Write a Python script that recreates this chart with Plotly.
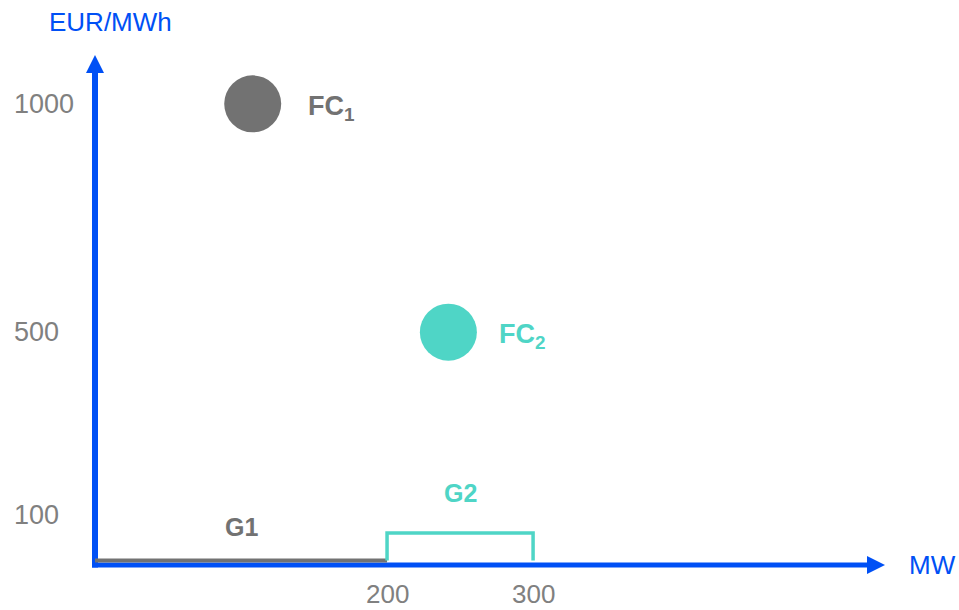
import plotly.graph_objects as go

# Supply blocks (MW) and offer prices (EUR/MWh)
g1_mw = [0, 200]
g1_price = [0, 0]
g2_mw = [200, 200, 300, 300]
g2_price = [0, 60, 60, 0]

# Fuel-cost points
fc_labels = ["FC<sub>1</sub>", "FC<sub>2</sub>"]
fc_mw = [108, 242]
fc_price = [1000, 500]

# Axis tick labels
y_ticks = [1000, 500, 100]
x_ticks = [200, 300]

BLUE = "#0050F5"
GRAY = "#727272"
TEAL = "#4FD5C6"
TICK_GRAY = "#808080"
FONT = "Arial, 'Liberation Sans', sans-serif"

fig = go.Figure()

# G1 block along the base
fig.add_trace(go.Scatter(x=g1_mw, y=g1_price, mode="lines",
                         line=dict(color=GRAY, width=4), hoverinfo="skip"))
# G2 bracket
fig.add_trace(go.Scatter(x=g2_mw, y=g2_price, mode="lines",
                         line=dict(color=TEAL, width=3.5), hoverinfo="skip"))
# Fuel-cost markers
fig.add_trace(go.Scatter(x=fc_mw, y=fc_price, mode="markers",
                         marker=dict(size=57, color=[GRAY, TEAL], line=dict(width=0)),
                         hoverinfo="skip", cliponaxis=False))

annotations = []
for lab, xv, yv, col, dx in zip(fc_labels, fc_mw, fc_price, [GRAY, TEAL], [53, 49]):
    annotations.append(dict(x=xv, y=yv, xref="x", yref="y", text=f"<b>{lab}</b>",
                            showarrow=False, xanchor="left", yanchor="middle",
                            xshift=dx, yshift=-4,
                            font=dict(family=FONT, size=27, color=col)))

# Block names
annotations.append(dict(x=(g1_mw[0] + g1_mw[1]) / 2, y=0, xref="x", yref="y",
                        text="<b>G1</b>", showarrow=False, yshift=33,
                        font=dict(family=FONT, size=25, color=GRAY)))
annotations.append(dict(x=(g2_mw[0] + g2_mw[-1]) / 2, y=0, xref="x", yref="y",
                        text="<b>G2</b>", showarrow=False, yshift=67,
                        font=dict(family=FONT, size=25, color=TEAL)))

# Tick labels
for v in y_ticks:
    annotations.append(dict(x=-0.1045, y=v, xref="paper", yref="y", text=str(v),
                            showarrow=False, xanchor="left", yanchor="middle",
                            font=dict(family=FONT, size=27, color=TICK_GRAY)))
for v in x_ticks:
    annotations.append(dict(x=v, y=0, xref="x", yref="paper", text=str(v),
                            showarrow=False, xanchor="center", yanchor="middle",
                            yshift=-29,
                            font=dict(family=FONT, size=26, color=TICK_GRAY)))

# Axis titles
annotations.append(dict(x=0.019, y=1, xref="paper", yref="paper", text="EUR/MWh",
                        showarrow=False, xanchor="center", yanchor="middle", yshift=33,
                        font=dict(family=FONT, size=26, color=BLUE)))
annotations.append(dict(x=1, y=0, xref="paper", yref="paper", text="MW",
                        showarrow=False, xanchor="left", yanchor="middle", xshift=22,
                        font=dict(family=FONT, size=26, color=BLUE)))

# Axis arrows
shapes = [
    # horizontal axis line
    dict(type="line", xref="paper", yref="paper", xsizemode="pixel", ysizemode="pixel",
         xanchor=1, yanchor=0, x0=-793, x1=-16, y0=0, y1=0,
         line=dict(color=BLUE, width=5), layer="below"),
    dict(type="path", xref="paper", yref="paper", xsizemode="pixel", ysizemode="pixel",
         xanchor=1, yanchor=0, path="M-18,-9 L0,0 L-18,9 Z",
         fillcolor=BLUE, line=dict(width=0), layer="below"),
    # vertical axis line
    dict(type="line", xref="paper", yref="paper", xsizemode="pixel", ysizemode="pixel",
         xanchor=0, yanchor=1, x0=0, x1=0, y0=-512.5, y1=-16,
         line=dict(color=BLUE, width=6), layer="below"),
    dict(type="path", xref="paper", yref="paper", xsizemode="pixel", ysizemode="pixel",
         xanchor=0, yanchor=1, path="M-9,-18 L0,0 L9,-18 Z",
         fillcolor=BLUE, line=dict(width=0), layer="below"),
]

fig.update_layout(
    width=959, height=610,
    margin=dict(l=95, r=74, t=55, b=45),
    paper_bgcolor="white", plot_bgcolor="white",
    showlegend=False,
    xaxis=dict(range=[0, 541], visible=False, fixedrange=True),
    yaxis=dict(range=[-10, 1107], visible=False, fixedrange=True),
    annotations=annotations,
    shapes=shapes,
)

fig.write_html("out.html")
